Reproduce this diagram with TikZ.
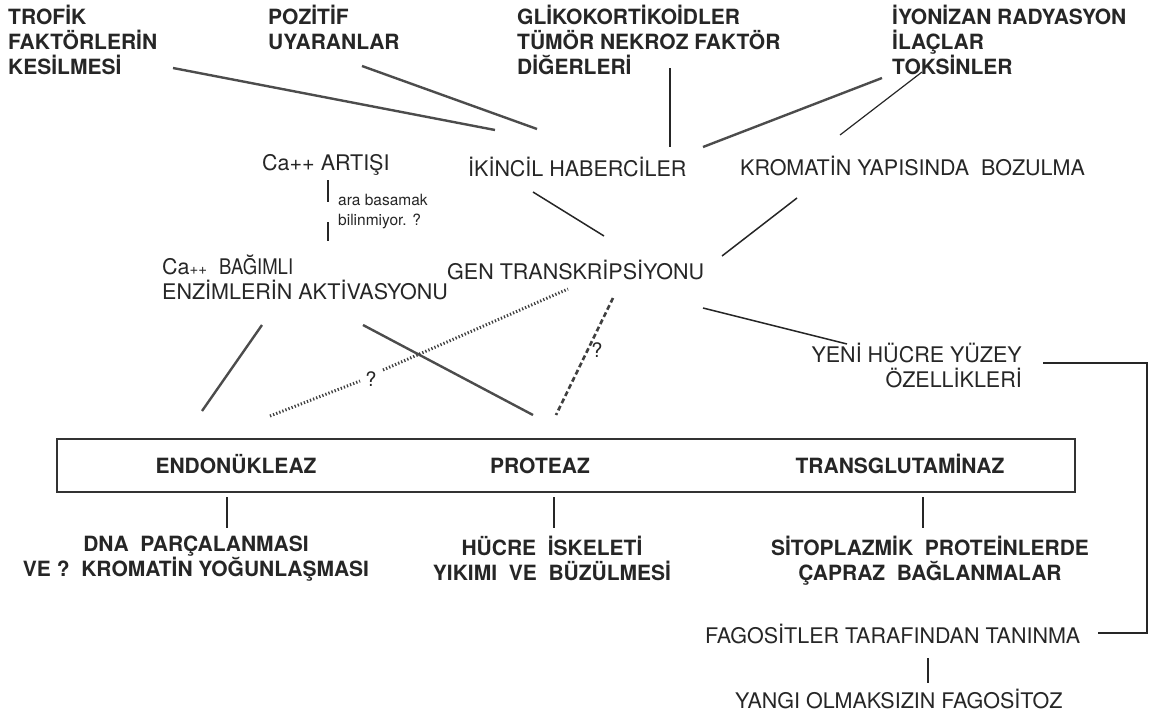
\documentclass[tikz,border=0pt]{standalone}
\usepackage{fontspec}
\setmainfont{TeX Gyre Heros}
\usepackage{graphicx}
\begin{document}
\begin{tikzpicture}[x=1pt,y=-1pt,
  reg/.style={font=\fontsize{21.5}{25}\selectfont, inner sep=0pt, align=left, text=black!85},
  bld/.style={font=\bfseries\fontsize{21}{25}\selectfont, inner sep=0pt, align=left, text=black!85},
  small/.style={font=\fontsize{15.5}{20}\selectfont, inner sep=0pt, align=left, text=black!85},
  thk/.style={line width=2.4pt, draw=black!70},
  thn/.style={line width=1.2pt, draw=black!85},
  dotl/.style={line width=3pt, draw=black!75, dash pattern=on 1.3pt off 2pt},
  dashl/.style={line width=2.6pt, draw=black!75, dash pattern=on 5pt off 3pt},
  boxst/.style={draw=black!80, line width=1.6pt, inner sep=0pt}]
\useasboundingbox (0,0) rectangle (1154,715);

% top causes
\node[bld, anchor=north west] (trofik) at (8,5) {TROFİK\\FAKTÖRLERİN\\KESİLMESİ};
\node[bld, anchor=north west] (pozitif) at (268,5) {POZİTİF\\UYARANLAR};
\node[bld, anchor=north west] (gliko) at (517,5) {GLİKOKORTİKOİDLER\\TÜMÖR NEKROZ FAKTÖR\\DİĞERLERİ};
\node[bld, anchor=north west] (iyon) at (892,5) {İYONİZAN RADYASYON\\İLAÇLAR\\TOKSİNLER};

% second row
\node[reg, anchor=base west] (ca) at (262,170) {Ca++ ARTIŞI};
\node[reg, anchor=base west] (ikincil) at (468,176) {İKİNCİL HABERCİLER};
\node[reg, anchor=base west] (krom) at (740,175) {KROMATİN YAPISINDA\ \ BOZULMA};
\node[small, anchor=north west] (ara) at (338,194) {ara basamak\\bilinmiyor. ?};

% third row
\node[reg, anchor=north west] (cabag) at (162,255) {Ca{\fontsize{15}{15}\selectfont ++}\ \ \scalebox{0.86}[1]{BAĞIMLI}\\ENZİMLERİN AKTİVASYONU};
\node[reg, anchor=base west] (gen) at (447,279) {GEN TRANSKRİPSİYONU};
\node[reg, anchor=north east, align=right] (yeni) at (1022,343) {YENİ HÜCRE YÜZEY\ \\ÖZELLİKLERİ};

% enzyme box
\node[boxst, minimum width=1018pt, minimum height=53pt] (box) at (566,465.5) {};
\node[bld, anchor=base] (endo) at (236,473) {ENDONÜKLEAZ};
\node[bld, anchor=base] (prot) at (540,473) {PROTEAZ};
\node[bld, anchor=base] (trans) at (900,473) {TRANSGLUTAMİNAZ};

% results
\node[bld, anchor=north, align=center] (dna) at (196,536) {DNA\ \ PARÇALANMASI\\VE ?\ \ KROMATİN YOĞUNLAŞMASI};
\node[bld, anchor=north, align=center] (hucre) at (552,536) {HÜCRE\ \ İSKELETİ\\YIKIMI\ \ VE\ \ BÜZÜLMESİ};
\node[bld, anchor=north, align=center] (sito) at (930,536) {SİTOPLAZMİK\ \ PROTEİNLERDE\\ÇAPRAZ\ \ BAĞLANMALAR};

\node[reg, anchor=base west] (fago) at (705,643) {FAGOSİTLER TARAFINDAN TANINMA};
\node[reg, anchor=base west] (yangi) at (735,708) {YANGI OLMAKSIZIN FAGOSİTOZ};

% question marks
\node[font=\fontsize{20}{20}\selectfont, inner sep=0pt, text=black!85] (q1) at (371,379) {?};
\node[font=\fontsize{20}{20}\selectfont, inner sep=0pt, text=black!85] (q2) at (597,350) {?};

% connector end points
\coordinate (a1) at (173,68);   \coordinate (a2) at (495,130);
\coordinate (b1) at (362,66);   \coordinate (b2) at (537,129);
\coordinate (c1) at (670,68);   \coordinate (c2) at (670,147);
\coordinate (d1) at (882,78);   \coordinate (d2) at (703,147);
\coordinate (e1) at (922,72);   \coordinate (e2) at (840,135);
\coordinate (f1) at (328,180);  \coordinate (f2) at (328,202);
\coordinate (f3) at (328,222);  \coordinate (f4) at (328,241);
\coordinate (g1) at (533,192);  \coordinate (g2) at (604,236);
\coordinate (h1) at (797,198);  \coordinate (h2) at (722,256);
\coordinate (i1) at (703,308);  \coordinate (i2) at (847,344);
\coordinate (j1) at (262,325);  \coordinate (j2) at (202,411);
\coordinate (k1) at (363,325);  \coordinate (k2) at (533,415);
\coordinate (l1) at (270,416);  \coordinate (l2) at (360,381);
\coordinate (l3) at (383,370);  \coordinate (l4) at (568,289);
\coordinate (m1) at (613,298);  \coordinate (m2) at (556,415);
\coordinate (n1) at (227,497);  \coordinate (n2) at (227,528);
\coordinate (o1) at (554,497);  \coordinate (o2) at (554,528);
\coordinate (p1) at (923,497);  \coordinate (p2) at (923,528);
\coordinate (r1) at (1043,363); \coordinate (r2) at (1147,363);
\coordinate (r3) at (1147,633); \coordinate (r4) at (1098,633);
\coordinate (s1) at (928,658);  \coordinate (s2) at (928,683);

% connectors
\draw[thk] (a1) -- (a2);
\draw[thk] (b1) -- (b2);
\draw[thn] (c1) -- (c2);
\draw[thk] (d1) -- (d2);
\draw[thn] (e1) -- (e2);
\draw[thn] (f1) -- (f2);
\draw[thn] (f3) -- (f4);
\draw[thn, line width=1.5pt] (g1) -- (g2);
\draw[thn, line width=1.5pt] (h1) -- (h2);
\draw[thn, line width=1.5pt] (i1) -- (i2);
\draw[thk] (j1) -- (j2);
\draw[thk] (k1) -- (k2);
\draw[dotl] (l1) -- (l2);
\draw[dotl] (l3) -- (l4);
\draw[dashl] (m1) -- (m2);
\draw[thn] (n1) -- (n2);
\draw[thn] (o1) -- (o2);
\draw[thn] (p1) -- (p2);
\draw[thn] (r1) -- (r2) -- (r3) -- (r4);
\draw[thn] (s1) -- (s2);
\end{tikzpicture}
\end{document}
